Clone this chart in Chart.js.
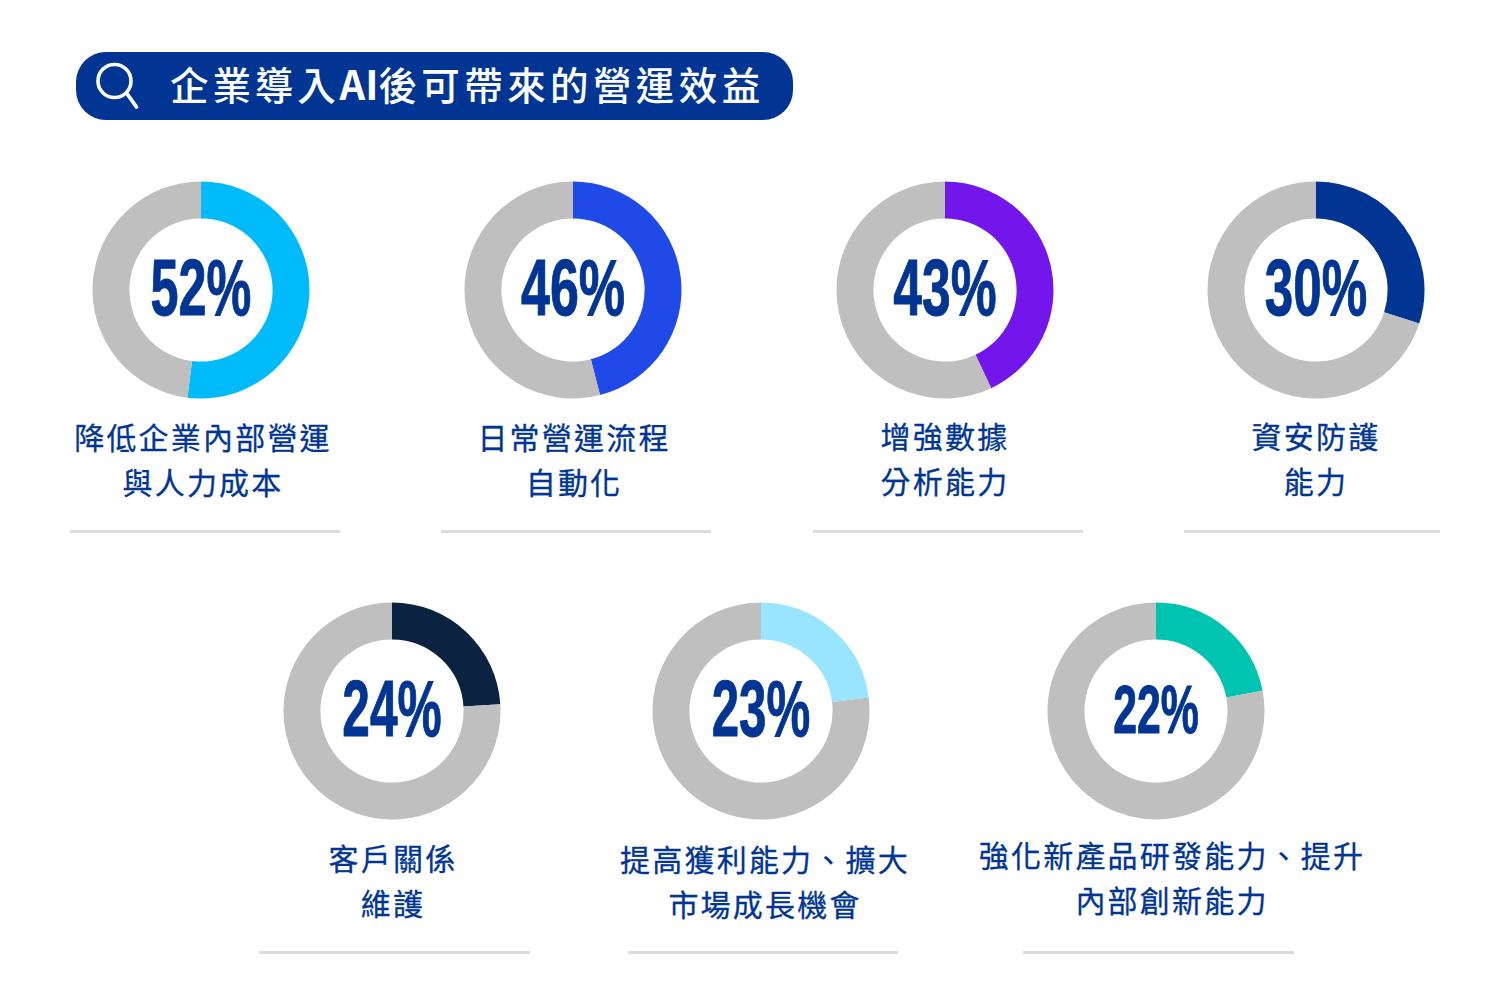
<!DOCTYPE html>
<html lang="zh-Hant">
<head>
<meta charset="utf-8">
<script src="https://cdn.jsdelivr.net/npm/chart.js@4"></script>
<style>
html,body{margin:0;padding:0;background:#fff;}
#stage{position:relative;width:1500px;height:1000px;overflow:hidden;background:#fff;font-family:"Noto Sans CJK TC",sans-serif;}
#pill{position:absolute;left:76px;top:52px;width:717px;height:68px;border-radius:30px;background:#003594;}
#title{position:absolute;left:170px;top:49px;height:68px;line-height:68px;color:#fff;font-size:38.5px;font-weight:500;letter-spacing:4.4px;white-space:nowrap;}
#title b{font-size:40px;font-weight:700;letter-spacing:0;}
#title span{letter-spacing:3.9px;}
#icon{position:absolute;left:90px;top:56px;}
canvas{position:absolute;}
.pct{position:absolute;color:#003594;-webkit-text-stroke:1px #003594;font-family:"Liberation Sans",sans-serif;font-weight:700;white-space:nowrap;text-align:center;line-height:1;}
.lab{position:absolute;color:#003594;-webkit-text-stroke:0.3px #003594;font-size:30px;letter-spacing:2.2px;font-weight:400;white-space:nowrap;transform:translate(-50%,-50%);line-height:1;}
.rule{position:absolute;height:3px;background:#dcdcdc;}
</style>
</head>
<body>
<div id="stage">
  <div id="pill"></div>
  <svg id="icon" width="60" height="60" viewBox="0 0 60 60">
    <circle cx="24.5" cy="25" r="16.5" fill="none" stroke="#fff" stroke-width="3.6"/>
    <line x1="36.5" y1="37" x2="46.5" y2="51" stroke="#fff" stroke-width="3.8" stroke-linecap="round"/>
  </svg>
  <div id="title"></div>
</div>
<script>
const titleParts = ["企業導入", "AI", "後可帶來的營運效益"];
const values = [52, 46, 43, 30, 24, 23, 22];
const colors = ["#00BBF9", "#1F4AE8", "#7216EC", "#003594", "#0B2240", "#99E5FF", "#00C4B0"];
const remainderColor = "#BFBFBF";
const labelLines = [
  ["降低企業內部營運", "與人力成本"],
  ["日常營運流程", "自動化"],
  ["增強數據", "分析能力"],
  ["資安防護", "能力"],
  ["客戶關係", "維護"],
  ["提高獲利能力、擴大", "市場成長機會"],
  ["強化新產品研發能力、提升", "內部創新能力"]
];
const centersX = [201, 573, 945, 1316, 392, 761, 1156];
const centersY = [290, 290, 290, 290, 711, 711, 711];
const labelX = [203, 574, 945, 1316, 393, 765, 1172];
const labelY = [[436, 481], [436, 481], [435, 480], [435, 480], [857, 902], [858, 903], [854, 899]];
const ruleX = [[70, 340], [441, 711], [813, 1083], [1184, 1440], [259, 530], [628, 898], [1023, 1294]];
const ruleY = [530, 530, 530, 530, 951, 951, 951];
const pctSize = [80, 80, 80, 80, 80, 80, 69];
const pctScale = [0.63, 0.65, 0.645, 0.64, 0.62, 0.615, 0.62];

const stage = document.getElementById("stage");
const titleEl = document.getElementById("title");
titleEl.innerHTML = "<span>" + titleParts[0] + "</span><b>" + titleParts[1] + "</b>" + titleParts[2];
const R = 109;
values.forEach((v, i) => {
  const c = document.createElement("canvas");
  c.width = R * 2; c.height = R * 2;
  c.style.left = (centersX[i] - R) + "px";
  c.style.top = (centersY[i] - R) + "px";
  c.style.width = R * 2 + "px";
  c.style.height = R * 2 + "px";
  stage.appendChild(c);
  new Chart(c, {
    type: "doughnut",
    data: {
      labels: [labelLines[i].join(""), "其他"],
      datasets: [{ data: [v, 100 - v], backgroundColor: [colors[i], remainderColor], borderWidth: 0 }]
    },
    options: {
      responsive: false,
      animation: false,
      cutout: "66%",
      layout: { padding: 0.5 },
      plugins: { legend: { display: false }, tooltip: { enabled: false } }
    }
  });

  const p = document.createElement("div");
  p.className = "pct";
  p.textContent = v + "%";
  p.style.fontSize = pctSize[i] + "px";
  p.style.left = (centersX[i] - 0.5) + "px";
  p.style.top = (centersY[i] - 2) + "px";
  p.style.transform = "translate(-50%,-50%) scaleX(" + pctScale[i] + ")";
  stage.appendChild(p);

  labelLines[i].forEach((t, j) => {
    const d = document.createElement("div");
    d.className = "lab";
    d.textContent = t;
    d.style.left = labelX[i] + "px";
    d.style.top = labelY[i][j] + "px";
    stage.appendChild(d);
  });

  const r = document.createElement("div");
  r.className = "rule";
  r.style.left = ruleX[i][0] + "px";
  r.style.width = (ruleX[i][1] - ruleX[i][0]) + "px";
  r.style.top = ruleY[i] + "px";
  stage.appendChild(r);
});
</script>
</body>
</html>
